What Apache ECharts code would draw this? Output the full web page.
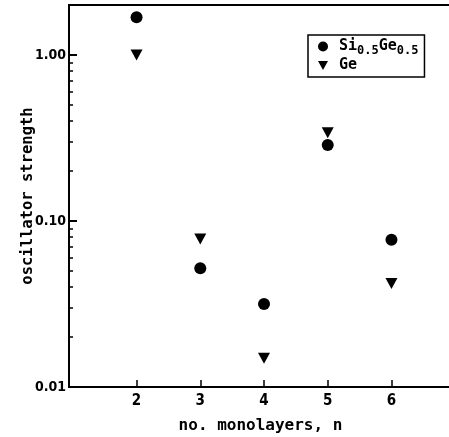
<!DOCTYPE html>
<html>
<head>
<meta charset="utf-8">
<script src="https://cdn.jsdelivr.net/npm/echarts@6/dist/echarts.min.js"></script>
<style>
  html, body { margin: 0; padding: 0; background: #fff; }
  #chart { width: 449px; height: 437px; }
</style>
</head>
<body>
<div id="chart"></div>
<script>
var n_values = [2, 3, 4, 5, 6];
var sige_values = [1.69, 0.052, 0.0316, 0.287, 0.077];
var ge_values = [1.00, 0.078, 0.0149, 0.34, 0.042];
var y_major = [0.01, 0.1, 1];
var y_minor = [0.02, 0.03, 0.04, 0.05, 0.06, 0.07, 0.08, 0.09,
               0.2, 0.3, 0.4, 0.5, 0.6, 0.7, 0.8, 0.9];

var fnt = '"DejaVu Sans Condensed", sans-serif';
var mono = '"DejaVu Sans Mono", monospace';
var downTri = 'path://M0,0 L10,0 L5,9 Z';

function pairs(xs, ys) {
    var out = [];
    for (var i = 0; i < xs.length; i++) {
        out.push([xs[i], ys[i]]);
    }
    return out;
}

var myChart = echarts.init(document.getElementById('chart'), null, { renderer: 'canvas' });

var option = {
    backgroundColor: '#fff',
    animation: false,
    grid: {
        left: 69,
        top: 5,
        right: -3,
        bottom: 50,
        outerBoundsMode: 'none',
        containLabel: false,
        show: true,
        borderColor: '#000',
        borderWidth: 2
    },
    legend: {
        left: 308,
        top: 35,
        orient: 'vertical',
        itemWidth: 10,
        itemHeight: 10,
        itemGap: 1,
        padding: [4, 6, 4, 10],
        borderColor: '#000',
        borderWidth: 1.5,
        textStyle: {
            fontFamily: mono,
            fontWeight: 'bold',
            fontSize: 15,
            color: '#000',
            rich: {
                g: { width: 6 },
                a: { fontFamily: mono, fontWeight: 'bold', fontSize: 15, color: '#000' },
                s: { fontFamily: mono, fontWeight: 'bold', fontSize: 12, color: '#000', padding: [9, 0, 0, 0] }
            }
        },
        formatter: function (name) {
            if (name === 'SiGe') {
                return '{g|}{a|Si}{s|0.5}{a|Ge}{s|0.5}';
            }
            return '{g|}{a|' + name + '}';
        },
        data: [
            { name: 'SiGe', icon: 'circle' },
            { name: 'Ge', icon: downTri }
        ]
    },
    xAxis: {
        type: 'value',
        min: 0.94,
        max: 6.95,
        name: 'no. monolayers, n',
        nameLocation: 'middle',
        nameGap: 31,
        nameMoveOverlap: false,
        nameTextStyle: { fontFamily: mono, fontWeight: 'bold', fontSize: 16, color: '#000' },
        splitLine: { show: false },
        axisLine: { lineStyle: { color: '#000', width: 2 } },
        axisTick: {
            inside: true,
            length: 7,
            customValues: n_values,
            lineStyle: { color: '#000', width: 1.5 }
        },
        axisLabel: {
            customValues: n_values,
            margin: 7,
            fontFamily: fnt,
            fontWeight: 'bold',
            fontSize: 15,
            color: '#000'
        }
    },
    yAxis: [{
        type: 'log',
        min: 0.01,
        max: 2,
        name: 'oscillator strength',
        nameLocation: 'middle',
        nameGap: 33,
        nameMoveOverlap: false,
        nameTextStyle: { fontFamily: mono, fontWeight: 'bold', fontSize: 15.5, color: '#000' },
        splitLine: { show: false },
        axisLine: { lineStyle: { color: '#000', width: 2 } },
        axisTick: {
            inside: true,
            length: 8,
            customValues: y_major,
            lineStyle: { color: '#000', width: 2 }
        },
        axisLabel: {
            customValues: y_major,
            margin: 3,
            fontFamily: fnt,
            fontWeight: 'bold',
            fontSize: 14,
            color: '#000',
            formatter: function (v) { return v.toFixed(2); }
        }
    }, {
        type: 'log',
        min: 0.01,
        max: 2,
        position: 'left',
        splitLine: { show: false },
        axisLine: { show: false },
        axisLabel: { show: false },
        axisTick: {
            inside: true,
            length: 4,
            customValues: y_minor,
            lineStyle: { color: '#000', width: 1.5 }
        }
    }],
    series: [{
        name: 'SiGe',
        type: 'scatter',
        symbol: 'circle',
        symbolSize: 12,
        itemStyle: { color: '#000', opacity: 1 },
        data: pairs(n_values, sige_values)
    }, {
        name: 'Ge',
        type: 'scatter',
        symbol: downTri,
        symbolSize: [12, 11],
        itemStyle: { color: '#000', opacity: 1 },
        data: pairs(n_values, ge_values)
    }]
};

myChart.setOption(option);
</script>
</body>
</html>
